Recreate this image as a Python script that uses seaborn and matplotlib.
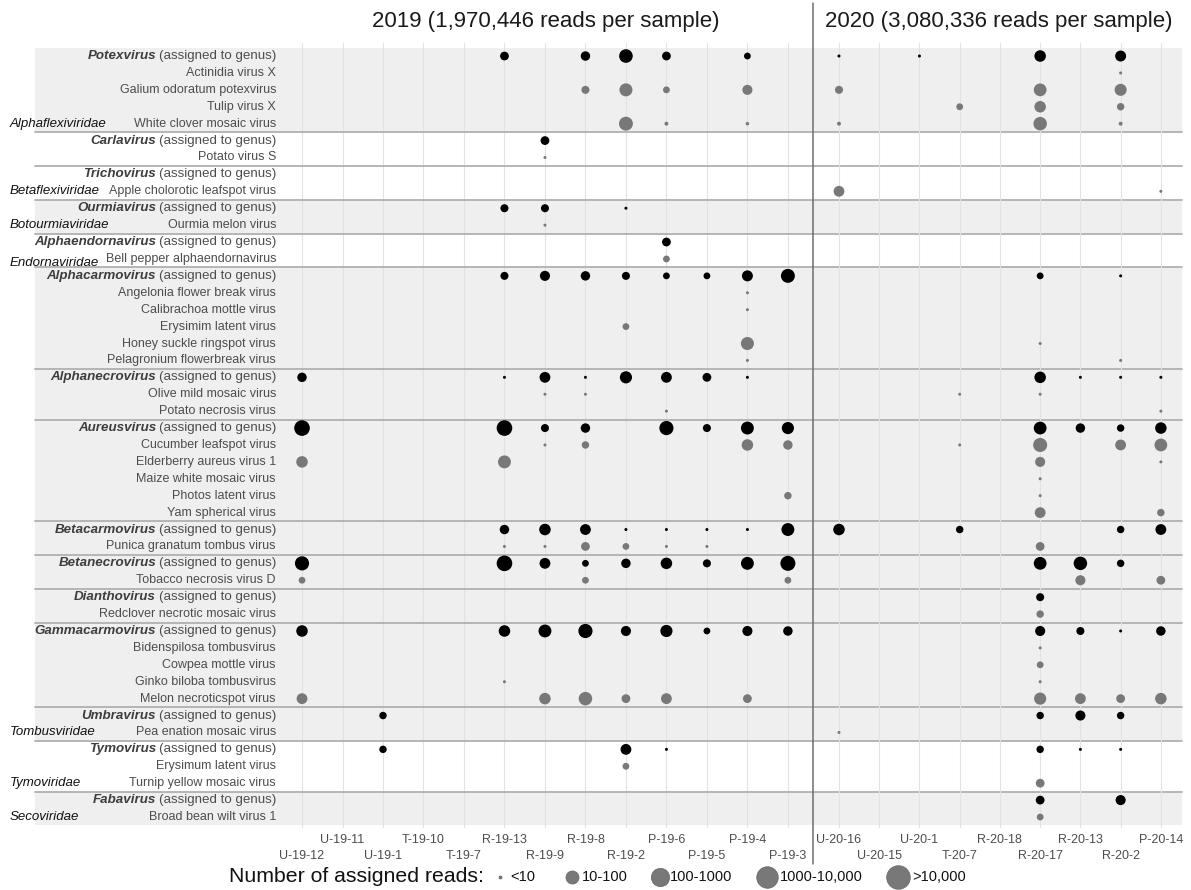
import numpy as np
import pandas as pd
import matplotlib
matplotlib.use("Agg")
import matplotlib.pyplot as plt
import matplotlib.transforms as mtransforms
from matplotlib.patches import Rectangle
from matplotlib.lines import Line2D
import seaborn as sns

# ---------------- data ----------------
samples_2019 = ["U-19-12", "U-19-11", "U-19-1", "T-19-10", "T-19-7", "R-19-13", "R-19-9",
                "R-19-8", "R-19-2", "P-19-6", "P-19-5", "P-19-4", "P-19-3"]
samples_2020 = ["U-20-16", "U-20-15", "U-20-1", "T-20-7", "R-20-18", "R-20-17", "R-20-13",
                "R-20-2", "P-20-14"]
panel_titles = ["2019 (1,970,446 reads per sample)", "2020 (3,080,336 reads per sample)"]

virus_rows = [
    "Potexvirus", "Actinidia virus X", "Galium odoratum potexvirus", "Tulip virus X", "White clover mosaic virus",
    "Carlavirus", "Potato virus S",
    "Trichovirus", "Apple cholorotic leafspot virus",
    "Ourmiavirus", "Ourmia melon virus",
    "Alphaendornavirus", "Bell pepper alphaendornavirus",
    "Alphacarmovirus", "Angelonia flower break virus", "Calibrachoa mottle virus", "Erysimim latent virus",
    "Honey suckle ringspot virus", "Pelagronium flowerbreak virus",
    "Alphanecrovirus", "Olive mild mosaic virus", "Potato necrosis virus",
    "Aureusvirus", "Cucumber leafspot virus", "Elderberry aureus virus 1", "Maize white mosaic virus",
    "Photos latent virus", "Yam spherical virus",
    "Betacarmovirus", "Punica granatum tombus virus",
    "Betanecrovirus", "Tobacco necrosis virus D",
    "Dianthovirus", "Redclover necrotic mosaic virus",
    "Gammacarmovirus", "Bidenspilosa tombusvirus", "Cowpea mottle virus", "Ginko biloba tombusvirus",
    "Melon necroticspot virus",
    "Umbravirus", "Pea enation mosaic virus",
    "Tymovirus", "Erysimum latent virus", "Turnip yellow mosaic virus",
    "Fabavirus", "Broad bean wilt virus 1",
]
genera = ["Potexvirus", "Carlavirus", "Trichovirus", "Ourmiavirus", "Alphaendornavirus", "Alphacarmovirus",
          "Alphanecrovirus", "Aureusvirus", "Betacarmovirus", "Betanecrovirus", "Dianthovirus",
          "Gammacarmovirus", "Umbravirus", "Tymovirus", "Fabavirus"]
families = ["Alphaflexiviridae", "Betaflexiviridae", "Botourmiaviridae", "Endornaviridae",
            "Tombusviridae", "Tymoviridae", "Secoviridae"]
family_first_genus = ["Potexvirus", "Carlavirus", "Ourmiavirus", "Alphaendornavirus",
                      "Alphacarmovirus", "Tymovirus", "Fabavirus"]

N = None
# estimated log10(number of assigned reads), one row per virus_rows entry
log_reads_2019 = [
    [N, N, N, N, N, 1.6, N, 1.8, 3.35, 1.6, N, 1.1, N],
    [N, N, N, N, N, N, N, N, N, N, N, N, N],
    [N, N, N, N, N, N, N, 1.4, 3.1, 1.1, N, 2.0, N],
    [N, N, N, N, N, N, N, N, N, N, N, N, N],
    [N, N, N, N, N, N, N, N, 3.5, 0.6, N, 0.55, N],
    [N, N, N, N, N, N, 1.6, N, N, N, N, N, N],
    [N, N, N, N, N, N, 0.5, N, N, N, N, N, N],
    [N, N, N, N, N, N, N, N, N, N, N, N, N],
    [N, N, N, N, N, N, N, N, N, N, N, N, N],
    [N, N, N, N, N, 1.4, 1.4, N, 0.5, N, N, N, N],
    [N, N, N, N, N, N, 0.5, N, N, N, N, N, N],
    [N, N, N, N, N, N, N, N, N, 1.6, N, N, N],
    [N, N, N, N, N, N, N, N, N, 1.1, N, N, N],
    [N, N, N, N, N, 1.4, 2.0, 1.8, 1.4, 1.1, 1.1, 2.3, 3.5],
    [N, N, N, N, N, N, N, N, N, N, N, 0.5, N],
    [N, N, N, N, N, N, N, N, N, N, N, 0.5, N],
    [N, N, N, N, N, N, N, N, 1.1, N, N, N, N],
    [N, N, N, N, N, N, N, N, N, N, N, 3.1, N],
    [N, N, N, N, N, N, N, N, N, N, N, 0.5, N],
    [1.8, N, N, N, N, 0.5, 2.25, 0.5, 2.75, 2.25, 1.6, 0.5, N],
    [N, N, N, N, N, N, 0.5, 0.5, N, N, N, N, N],
    [N, N, N, N, N, N, N, N, N, 0.5, N, N, N],
    [4.3, N, N, N, N, 4.3, 1.4, 1.8, N, 3.6, 1.4, 3.05, 2.75],
    [N, N, N, N, N, N, 0.5, 1.25, N, N, N, 2.5, 1.8],
    [2.5, N, N, N, N, 3.05, N, N, N, N, N, N, N],
    [N, N, N, N, N, N, N, N, N, N, N, N, N],
    [N, N, N, N, N, N, N, N, N, N, N, N, 1.25],
    [N, N, N, N, N, N, N, N, N, N, N, N, N],
    [N, N, N, N, N, 1.8, 2.5, 2.25, 0.5, 0.5, 0.5, 0.5, 3.05],
    [N, N, N, N, N, 0.5, 0.5, 1.6, 1.1, 0.5, 0.5, N, N],
    [3.6, N, N, N, N, 4.3, 2.25, 1.1, 1.8, 2.5, 1.4, 3.05, 4.0],
    [1.1, N, N, N, N, N, N, 1.1, N, N, N, N, 1.1],
    [N, N, N, N, N, N, N, N, N, N, N, N, N],
    [N, N, N, N, N, N, N, N, N, N, N, N, N],
    [2.5, N, N, N, N, 2.5, 3.05, 3.6, 2.0, 2.75, 1.1, 2.0, 1.8],
    [N, N, N, N, N, N, N, N, N, N, N, N, N],
    [N, N, N, N, N, N, N, N, N, N, N, N, N],
    [N, N, N, N, N, 0.5, N, N, N, N, N, N, N],
    [2.25, N, N, N, N, N, 2.5, 3.3, 1.6, 2.25, N, 1.6, N],
    [N, N, 1.25, N, N, N, N, N, N, N, N, N, N],
    [N, N, N, N, N, N, N, N, N, N, N, N, N],
    [N, N, 1.25, N, N, N, N, N, 2.25, 0.5, N, N, N],
    [N, N, N, N, N, N, N, N, 1.1, N, N, N, N],
    [N, N, N, N, N, N, N, N, N, N, N, N, N],
    [N, N, N, N, N, N, N, N, N, N, N, N, N],
    [N, N, N, N, N, N, N, N, N, N, N, N, N],
]
log_reads_2020 = [
    [0.5, N, 0.5, N, N, 2.5, N, 2.3, N],
    [N, N, N, N, N, N, N, 0.5, N],
    [1.4, N, N, N, N, 3.0, N, 2.7, N],
    [N, N, N, 1.1, N, 2.5, N, 1.25, N],
    [0.6, N, N, N, N, 3.3, N, 0.6, N],
    [N, N, N, N, N, N, N, N, N],
    [N, N, N, N, N, N, N, N, N],
    [N, N, N, N, N, N, N, N, N],
    [2.25, N, N, N, N, N, N, N, 0.5],
    [N, N, N, N, N, N, N, N, N],
    [N, N, N, N, N, N, N, N, N],
    [N, N, N, N, N, N, N, N, N],
    [N, N, N, N, N, N, N, N, N],
    [N, N, N, N, N, 1.1, N, 0.5, N],
    [N, N, N, N, N, N, N, N, N],
    [N, N, N, N, N, N, N, N, N],
    [N, N, N, N, N, N, N, N, N],
    [N, N, N, N, N, 0.5, N, N, N],
    [N, N, N, N, N, N, N, 0.5, N],
    [N, N, N, N, N, 2.5, 0.5, 0.5, 0.5],
    [N, N, N, 0.5, N, 0.5, N, N, N],
    [N, N, N, N, N, N, N, N, 0.5],
    [N, N, N, N, N, 3.0, 1.8, 1.25, 2.5],
    [N, N, N, 0.5, N, 3.55, N, 2.25, 3.0],
    [N, N, N, N, N, 2.0, N, N, 0.5],
    [N, N, N, N, N, 0.5, N, N, N],
    [N, N, N, N, N, 0.5, N, N, N],
    [N, N, N, N, N, 2.25, N, N, 1.25],
    [2.5, N, N, 1.25, N, N, N, 1.25, 2.25],
    [N, N, N, N, N, 1.6, N, N, N],
    [N, N, N, N, N, 3.0, 3.3, 1.25, N],
    [N, N, N, N, N, N, 2.0, N, 1.6],
    [N, N, N, N, N, 1.4, N, N, N],
    [N, N, N, N, N, 1.25, N, N, N],
    [N, N, N, N, N, 2.0, 1.4, 0.5, 1.8],
    [N, N, N, N, N, 0.5, N, N, N],
    [N, N, N, N, N, 1.1, N, N, N],
    [N, N, N, N, N, 0.5, N, N, N],
    [N, N, N, N, N, 2.75, 2.25, 1.6, 2.5],
    [N, N, N, N, N, 1.25, 2.0, 1.25, N],
    [0.5, N, N, N, N, N, N, N, N],
    [N, N, N, N, N, 1.25, 0.5, 0.5, N],
    [N, N, N, N, N, N, N, N, N],
    [N, N, N, N, N, 1.6, N, N, N],
    [N, N, N, N, N, 1.6, N, 2.0, N],
    [N, N, N, N, N, 1.1, N, N, N],
]
legend_labels = ["<10", "10-100", "100-1000", "1000-10,000", ">10,000"]


def long_frame(matrix, samples):
    recs = []
    for i, row in enumerate(matrix):
        for j, v in enumerate(row):
            if v is not None:
                recs.append({"virus": virus_rows[i], "sample": samples[j], "log_reads": v})
    df = pd.DataFrame(recs)
    df["row"] = pd.Categorical(df["virus"], categories=virus_rows).codes
    df["col"] = pd.Categorical(df["sample"], categories=samples).codes
    df["level"] = np.where(df["virus"].isin(genera), "genus", "species")
    return df


df19 = long_frame(log_reads_2019, samples_2019)
df20 = long_frame(log_reads_2020, samples_2020)

# ---------------- style ----------------
sns.set_theme(style="white")
plt.rcParams["font.family"] = ["Liberation Sans", "DejaVu Sans"]

FW, FH = 1191, 890
fig = plt.figure(figsize=(FW / 100, FH / 100), dpi=100)


def fx(x):
    return x / FW


def fy(y):
    return 1 - y / FH


TOP, BOT = 43, 828
ax1 = fig.add_axes([fx(278), fy(BOT), fx(813) - fx(278), fy(TOP) - fy(BOT)])
ax2 = fig.add_axes([fx(813), fy(BOT), fx(1185) - fx(813), fy(TOP) - fy(BOT)])

BLACK, GREY = "#000000", "#787878"
TXT = "#4d4d4d"
n_rows = len(virus_rows)

for ax, df, samples, xlim, lower_even in [
    (ax1, df19, samples_2019, (-0.593, 12.62), True),
    (ax2, df20, samples_2020, (-0.646, 8.6), False),
]:
    ax.set_facecolor("none")
    sns.scatterplot(data=df, x="col", y="row", size="log_reads", sizes=(4.7, 132.7),
                    size_norm=(0.5, 4.5), hue="level",
                    palette={"genus": BLACK, "species": GREY},
                    linewidth=0, legend=False, ax=ax, zorder=3)
    ax.set_xlim(*xlim)
    ax.set_ylim(n_rows - 1 + 0.65, -0.77)
    ax.set_xticks(range(len(samples)))
    ax.set_xticklabels([])
    ax.set_yticks([])
    ax.set_xlabel("")
    ax.set_ylabel("")
    for sp in ax.spines.values():
        sp.set_visible(False)
    ax.tick_params(axis="x", length=0)
    ax.grid(True, axis="x", color="#e2e2e2", lw=0.8)
    ax.grid(False, axis="y")
    ax.set_axisbelow(True)
    # staggered sample labels
    xt = mtransforms.blended_transform_factory(ax.transData, fig.transFigure)
    for k, s in enumerate(samples):
        lower = (k % 2 == 0) if lower_even else (k % 2 == 1)
        ax.text(k, fy(856 if lower else 840), s, transform=xt, ha="center", va="center",
                fontsize=9, color=TXT, clip_on=False)

trans = mtransforms.blended_transform_factory(fig.transFigure, ax1.transData)

# family bands
fam_start = [virus_rows.index(g) for g in family_first_genus]
fam_end = fam_start[1:] + [n_rows]
for k, fam in enumerate(families):
    s, e = fam_start[k], fam_end[k] - 1
    if k % 2 == 0:
        ax1.add_patch(Rectangle((fx(35), s - 0.5), fx(1182) - fx(35), e - s + 1, transform=trans,
                                facecolor="#efefef", edgecolor="none", zorder=0.2, clip_on=False))
    ax1.text(fx(10), e + (0.25 if fam == "Endornaviridae" else 0), fam, transform=trans,
             ha="left", va="center", fontsize=9.5, fontstyle="italic", color="#111111",
             zorder=5, clip_on=False)

# genus separators
for g in genera[1:]:
    r = virus_rows.index(g)
    ax1.add_line(Line2D([fx(35), fx(1182)], [r - 0.5, r - 0.5], transform=trans, color="#b0b0b0",
                        lw=1.3, zorder=0.6, clip_on=False))

# row labels
for i, name in enumerate(virus_rows):
    if name in genera:
        t = ax1.text(fx(276), i, "(assigned to genus)", transform=trans, ha="right", va="center",
                     fontsize=9.6, color=TXT, clip_on=False)
        ax1.annotate(name, xy=(0, 0.5), xycoords=t, xytext=(-1.8, 0), textcoords="offset points",
                     ha="right", va="center", fontsize=9.6, fontweight="bold", fontstyle="italic",
                     color="#3d3d3d", annotation_clip=False)
    else:
        ax1.text(fx(276), i, name, transform=trans, ha="right", va="center", fontsize=9,
                 color=TXT, clip_on=False)

# panel titles and divider
fig.text(fx(545.5), fy(22), panel_titles[0], ha="center", va="center", fontsize=16, color="#1a1a1a")
fig.text(fx(999), fy(22), panel_titles[1], ha="center", va="center", fontsize=16, color="#1a1a1a")
fig.add_artist(Line2D([fx(813), fx(813)], [fy(864), fy(3)], transform=fig.transFigure,
                      color="#6e6e6e", lw=1.1))

# legend (size key)
fig.text(fx(229), fy(877), "Number of assigned reads:", ha="left", va="center", fontsize=15.3,
         color="#111111")
marker_d = [2.2, 9.4, 13.2, 15.5, 17.0]
marker_x = [500, 572, 660, 767, 898]
text_x = [510, 582, 670, 780, 912]
for m, mx, tx, lab in zip(marker_d, marker_x, text_x, legend_labels):
    fig.add_artist(Line2D([fx(mx)], [fy(877)], transform=fig.transFigure, marker="o", ls="",
                          color=GREY, markeredgecolor="#666666", markeredgewidth=0.5, markersize=m))
    fig.text(fx(tx), fy(877), lab, ha="left", va="center", fontsize=10.5, color="#111111")

fig.savefig("out.png", dpi=100)
